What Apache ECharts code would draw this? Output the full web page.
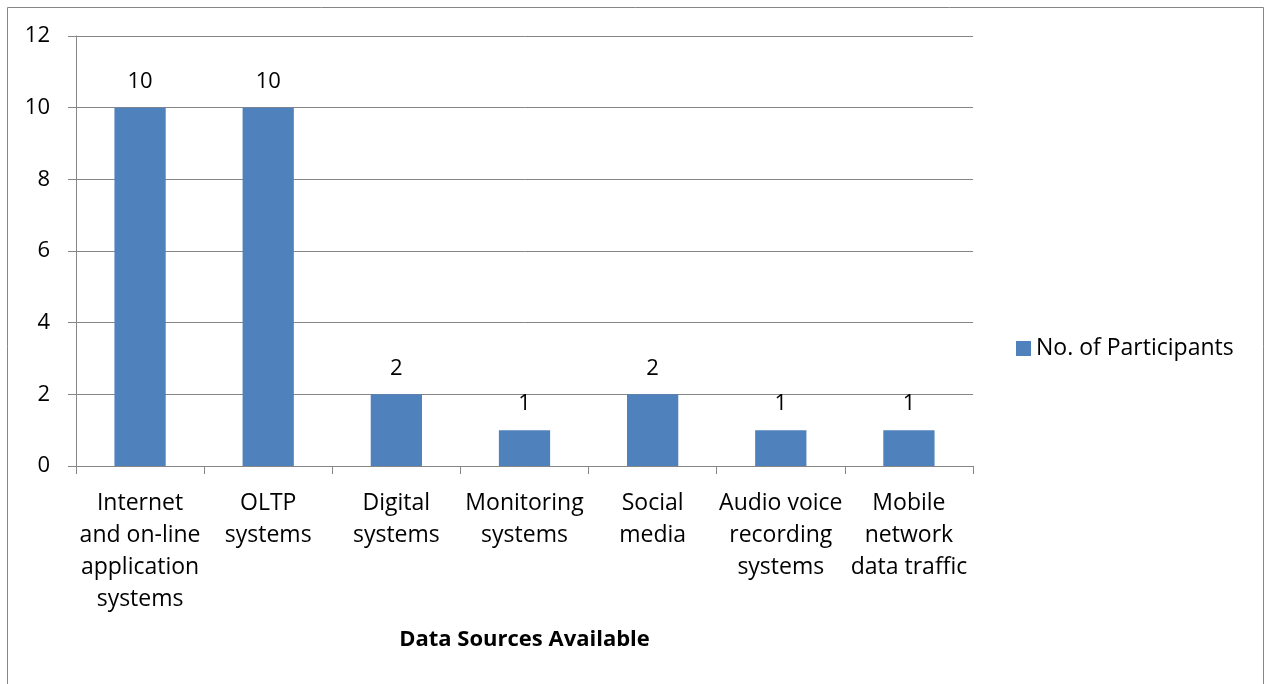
<!DOCTYPE html>
<html>
<head>
<meta charset="utf-8">
<script src="https://cdn.jsdelivr.net/npm/echarts@6/dist/echarts.min.js"></script>
<style>
  html, body { margin: 0; padding: 0; background: #fff; }
  #chart { width: 1265px; height: 684px; }
</style>
</head>
<body>
<div id="chart"></div>
<script>
// Data sources reported by participants
const categories = [
  'Internet\nand on-line\napplication\nsystems',
  'OLTP\nsystems',
  'Digital\nsystems',
  'Monitoring\nsystems',
  'Social\nmedia',
  'Audio voice\nrecording\nsystems',
  'Mobile\nnetwork\ndata traffic'
];
const participants = [10, 10, 2, 1, 2, 1, 1];
const seriesName = 'No. of Participants';
const axisTitle = 'Data Sources Available';

const FONT = '"Open Sans", Lato, sans-serif';
const GRAY = '#868686';

const chart = echarts.init(document.getElementById('chart'), null, { renderer: 'canvas' });
chart.setOption({
  animation: false,
  backgroundColor: '#fff',
  textStyle: { fontFamily: FONT },
  graphic: [{
    type: 'rect',
    shape: { x: 7.5, y: 7.5, width: 1256, height: 700 },
    style: { fill: 'none', stroke: GRAY, lineWidth: 1 },
    silent: true
  }],
  grid: { left: 76, right: 292, top: 36, bottom: 218 },
  legend: {
    data: [seriesName],
    left: 1016,
    top: 337,
    padding: 0,
    icon: 'rect',
    itemWidth: 15,
    itemHeight: 15,
    itemGap: 6,
    textStyle: { fontFamily: FONT, fontSize: 23, color: '#000', padding: [0, 0, 0, 0] }
  },
  xAxis: {
    type: 'category',
    data: categories,
    boundaryGap: true,
    name: axisTitle,
    nameLocation: 'middle',
    nameGap: 163,
    nameTextStyle: { fontFamily: FONT, fontSize: 22, fontWeight: 'bold', color: '#000' },
    axisLine: { lineStyle: { color: GRAY, width: 1 } },
    axisTick: { show: true, alignWithLabel: false, length: 8, lineStyle: { color: GRAY } },
    axisLabel: {
      interval: 0,
      margin: 21,
      fontFamily: FONT,
      fontSize: 23,
      lineHeight: 32,
      color: '#000',
      align: 'center',
      verticalAlign: 'top'
    },
    splitLine: { show: false }
  },
  yAxis: {
    type: 'value',
    min: 0,
    max: 12,
    interval: 2,
    axisLine: { show: true, lineStyle: { color: GRAY, width: 1 } },
    axisTick: { show: true, inside: false, length: 8, lineStyle: { color: GRAY } },
    axisLabel: { fontFamily: FONT, fontSize: 22, color: '#000', margin: 26 },
    splitLine: { show: true, lineStyle: { color: GRAY, width: 1 } }
  },
  series: [{
    name: seriesName,
    type: 'bar',
    data: participants,
    barWidth: '40%',
    itemStyle: { color: '#4F81BD' },
    label: {
      show: true,
      position: 'top',
      distance: 15,
      fontFamily: FONT,
      fontSize: 22,
      color: '#000'
    }
  }]
});
</script>
</body>
</html>
